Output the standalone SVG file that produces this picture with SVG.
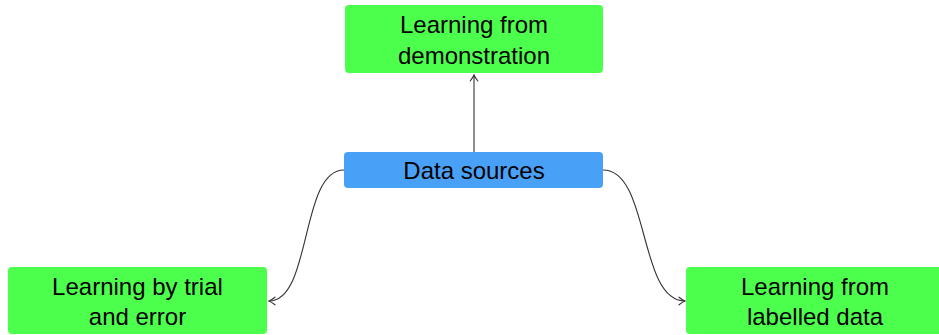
<svg xmlns="http://www.w3.org/2000/svg" width="939" height="335" viewBox="0 0 939 335">
  <style>
    .leaf { fill: #4dff4d; }
    .root { fill: #49a1f7; }
    .label { font-family: "Liberation Sans", Arial, sans-serif; font-size: 24px; fill: #000; text-anchor: middle; }
    .edge { fill: none; stroke: #333; stroke-width: 1.1; marker-end: url(#to); }
  </style>
  <defs>
    <marker id="to" viewBox="-8 -5 10 10" refX="0" refY="0" markerWidth="10" markerHeight="10" markerUnits="userSpaceOnUse" orient="auto">
      <path d="M-6,-3.8 Q-2.2,-0.8 0,0 Q-2.2,0.8 -6,3.8" fill="none" stroke="#333" stroke-width="1.1" stroke-linecap="round"/>
    </marker>
  </defs>

  <g id="connectors">
    <path class="edge" d="M474,152 L474,75"/>
    <path class="edge" d="M344,170 C300,170 312,301 269,301"/>
    <path class="edge" d="M603,170 C650,170 638,301 685,301"/>
  </g>

  <g id="demonstration">
    <rect class="leaf" x="345" y="5" width="258" height="68" rx="4"/>
    <text class="label" x="474" y="33">Learning from</text>
    <text class="label" x="474" y="64">demonstration</text>
  </g>

  <g id="data-sources">
    <rect class="root" x="344" y="152" width="259" height="36" rx="4"/>
    <text class="label" x="474" y="179">Data sources</text>
  </g>

  <g id="trial-and-error">
    <rect class="leaf" x="8" y="267" width="259" height="67" rx="4"/>
    <text class="label" x="137.5" y="295">Learning by trial</text>
    <text class="label" x="137.5" y="325">and error</text>
  </g>

  <g id="labelled-data">
    <rect class="leaf" x="686" y="267" width="259" height="67" rx="4"/>
    <text class="label" x="815" y="295">Learning from</text>
    <text class="label" x="815" y="325">labelled data</text>
  </g>
</svg>
